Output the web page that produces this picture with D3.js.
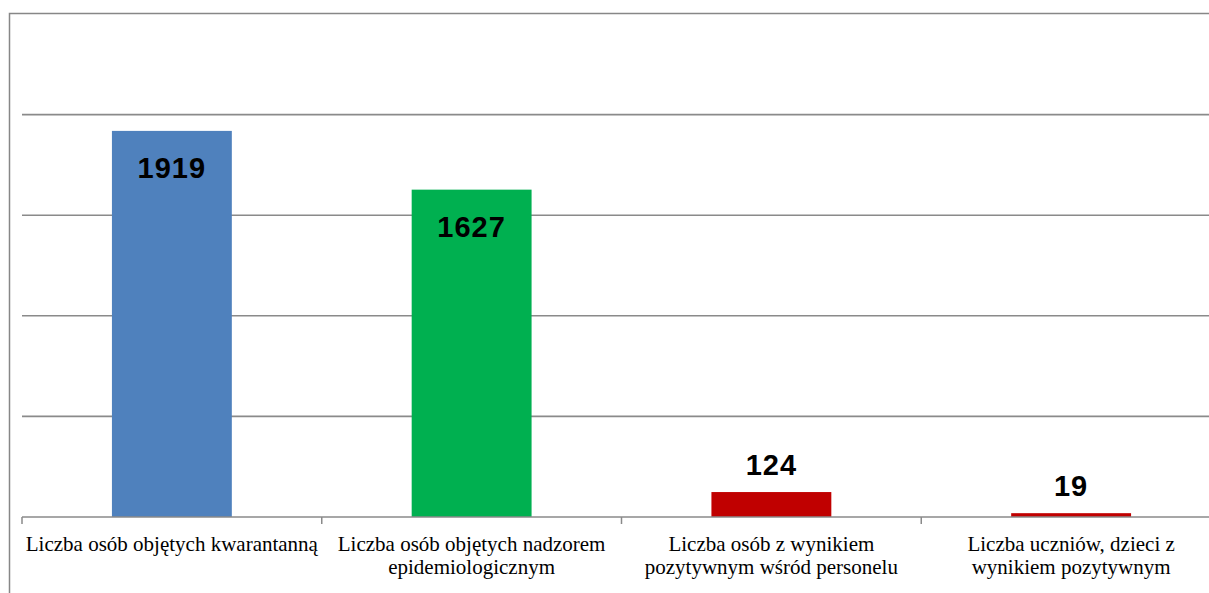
<!DOCTYPE html>
<html>
<head>
<meta charset="utf-8">
<script src="https://cdn.jsdelivr.net/npm/d3@7"></script>
<style>
  html, body { margin: 0; padding: 0; background: #fff; }
  svg { display: block; }
  .cat { font-family: "Liberation Serif", "Times New Roman", "DejaVu Serif", serif; }
  .val { font-family: "Liberation Sans", Arial, sans-serif; font-weight: bold; }
</style>
</head>
<body>
<svg id="chart" width="1209" height="593"></svg>
<script>
const categories = [
  "Liczba osób objętych kwarantanną",
  "Liczba osób objętych nadzorem\nepidemiologicznym",
  "Liczba osób z wynikiem\npozytywnym wśród personelu",
  "Liczba uczniów, dzieci z\nwynikiem pozytywnym"
];
const values = [1919, 1627, 124, 19];
const barColors = ["#4F81BD", "#00B050", "#C00000", "#C00000"];
const yTicks = [0, 500, 1000, 1500, 2000, 2500];

const svg = d3.select("#chart");
const plotLeft = 22, plotRight = 1221, plotTop = 14, plotBottom = 517;

const x = d3.scaleBand().domain(categories).range([plotLeft, plotRight]).paddingInner(0.6).paddingOuter(0.3);
const xTicksScale = d3.scaleBand().domain(categories).range([plotLeft, plotRight]);
const y = d3.scaleLinear().domain([0, 2500]).range([plotBottom, plotTop]);

// outer border
svg.append("rect")
  .attr("x", 9.5).attr("y", 13.5)
  .attr("width", 1400).attr("height", 700)
  .attr("fill", "none").attr("stroke", "#878787").attr("stroke-width", 1.5);

// gridlines
svg.append("g")
  .selectAll("line")
  .data(yTicks.filter(d => d > 0 && d < 2500))
  .join("line")
  .attr("x1", plotLeft).attr("x2", 1209)
  .attr("y1", d => y(d)).attr("y2", d => y(d))
  .attr("stroke", "#8a8a8a").attr("stroke-width", 1.6);

// bars
svg.append("g")
  .selectAll("rect")
  .data(values)
  .join("rect")
  .attr("x", (d, i) => x(categories[i]))
  .attr("width", x.bandwidth())
  .attr("y", d => y(d))
  .attr("height", d => y(0) - y(d))
  .attr("fill", (d, i) => barColors[i]);

// baseline axis
svg.append("line")
  .attr("x1", plotLeft).attr("x2", 1209)
  .attr("y1", y(0)).attr("y2", y(0))
  .attr("stroke", "#8a8a8a").attr("stroke-width", 1.6);

// tick marks
svg.append("g")
  .selectAll("line")
  .data(categories)
  .join("line")
  .attr("x1", d => xTicksScale(d)).attr("x2", d => xTicksScale(d))
  .attr("y1", y(0)).attr("y2", y(0) + 7)
  .attr("stroke", "#8a8a8a").attr("stroke-width", 1.5);

// value labels
svg.append("g")
  .selectAll("text")
  .data(values)
  .join("text")
  .attr("class", "val")
  .attr("x", (d, i) => x(categories[i]) + x.bandwidth() / 2)
  .attr("y", d => (y(0) - y(d)) > 100 ? y(d) + 47 : y(d) - 17)
  .attr("text-anchor", "middle")
  .attr("font-size", 29)
  .attr("letter-spacing", 1)
  .attr("fill", "#000")
  .text(d => d);

// category labels
const lab = svg.append("g")
  .selectAll("text")
  .data(categories)
  .join("text")
  .attr("class", "cat")
  .attr("x", d => xTicksScale(d) + xTicksScale.bandwidth() / 2)
  .attr("y", 551)
  .attr("text-anchor", "middle")
  .attr("font-size", 21)
  .attr("fill", "#000");
lab.each(function(d) {
  const t = d3.select(this);
  d.split("\n").forEach((line, i) => {
    t.append("tspan")
      .attr("x", t.attr("x"))
      .attr("dy", i === 0 ? 0 : 23)
      .text(line);
  });
});
</script>
</body>
</html>
